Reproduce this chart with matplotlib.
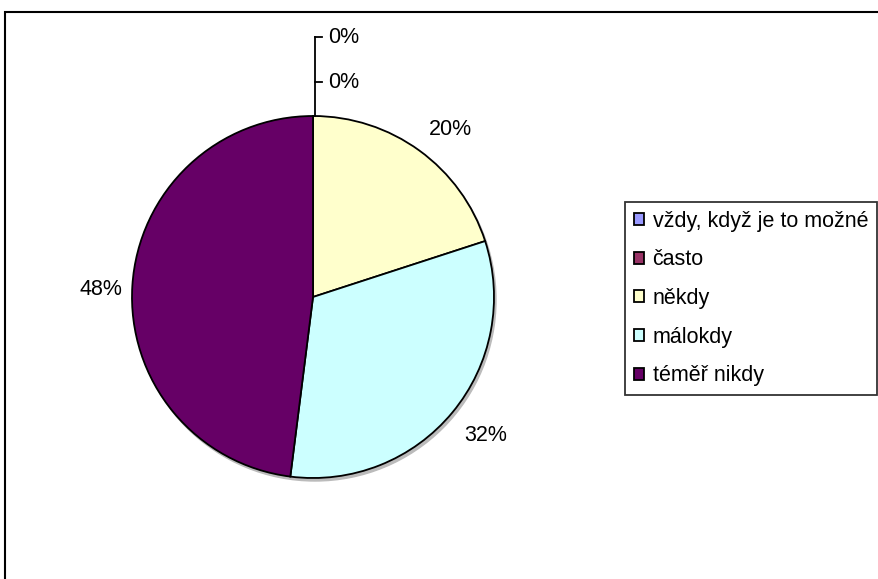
import numpy as np
import matplotlib
matplotlib.use("Agg")
import matplotlib.pyplot as plt
from matplotlib.patches import Rectangle

plt.rcParams['font.family'] = ['Liberation Sans', 'DejaVu Sans']

categories = ['vždy, když je to možné', 'často', 'někdy', 'málokdy', 'téměř nikdy']
shares = [0, 0, 20, 32, 48]
colors = ['#9999FF', '#993366', '#FFFFCC', '#CCFFFF', '#660066']

W, H = 879, 579
FS = 15.5
fig = plt.figure(figsize=(W / 100, H / 100), dpi=100)
ax = fig.add_axes([0, 0, 1, 1])

cx, cy, r = 313, H - 297, 181

# soft drop shadow under the pie
shadow = plt.Circle((cx + 2, cy - 3), r, color='#bbbbbb', zorder=0)
ax.add_patch(shadow)

def pct_label(p):
    return '' if p < 0.5 else '%d%%' % round(p)

wedges, texts, autotexts = ax.pie(
    shares, colors=colors, startangle=90, counterclock=False,
    center=(cx, cy), radius=r, autopct=pct_label, pctdistance=1.2,
    wedgeprops=dict(edgecolor='black', linewidth=1.3),
    textprops=dict(fontsize=FS, color='black'))

# nudge the outside labels a little away from the pie edge
nudges = {2: (10, -8), 3: (5, 0), 4: (5, -6)}
for i, (dx, dy) in nudges.items():
    x, y = autotexts[i].get_position()
    autotexts[i].set_position((x + dx, y + dy))

# zero-size slices: labels stacked above the top of the pie with a leader line
top_y = cy + r
label_ys = [H - 37, H - 82]
ax.plot([cx + 2, cx + 2], [top_y, label_ys[0]], color='black', lw=1.3)
for ly in label_ys:
    ax.plot([cx + 2, cx + 9], [ly, ly], color='black', lw=1.3)
    ax.text(cx + 15, ly, '0%', fontsize=FS, va='center', ha='left')

leg = ax.legend(wedges, categories, loc='upper left',
                bbox_to_anchor=(625 / W, 1 - 202 / H), bbox_transform=fig.transFigure,
                fontsize=FS, frameon=True, fancybox=False, shadow=False,
                handlelength=0.48, handleheight=0.48, handletextpad=0.4,
                labelspacing=0.82, borderpad=0.4, borderaxespad=0)
leg.get_frame().set_edgecolor('black')
leg.get_frame().set_linewidth(1.3)

# outer chart area frame
ax.add_patch(Rectangle((5, -20), W + 20, H - 12 + 20, fill=False,
                       edgecolor='black', linewidth=1.5, zorder=5))

ax.set_xlim(0, W)
ax.set_ylim(0, H)
ax.set_aspect('equal')
ax.axis('off')

fig.savefig('out.png', dpi=100)
